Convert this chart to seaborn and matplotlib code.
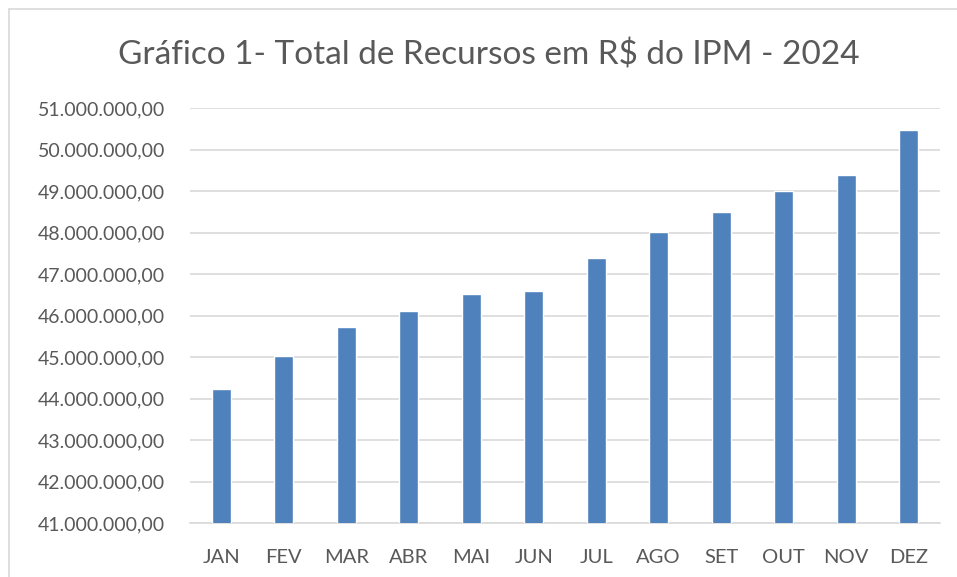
import pandas as pd
import matplotlib.pyplot as plt
import seaborn as sns
from matplotlib.lines import Line2D
from matplotlib.ticker import FuncFormatter, MultipleLocator

# Dados
meses = ['JAN', 'FEV', 'MAR', 'ABR', 'MAI', 'JUN', 'JUL', 'AGO', 'SET', 'OUT', 'NOV', 'DEZ']
recursos = [44220000, 45020000, 45720000, 46120000, 46530000, 46600000,
            47390000, 48010000, 48500000, 49000000, 49380000, 50480000]

df = pd.DataFrame({'mes': meses, 'recursos': recursos})

sns.set_style('white')
plt.rcParams['font.family'] = ['Lato', 'DejaVu Sans']

W, H = 957, 577
fig = plt.figure(figsize=(W / 100, H / 100), dpi=100)
ax = fig.add_axes([190 / W, 1 - 523 / H, 750 / W, (523 - 108) / H])

sns.barplot(x='mes', y='recursos', data=df, color='#4F81BD', width=0.31,
            saturation=1, ax=ax, zorder=3)

ax.set_ylim(41000000, 51000000)
ax.yaxis.set_major_locator(MultipleLocator(1000000))


def formato_br(v, pos):
    return f'{v:,.2f}'.replace(',', 'X').replace('.', ',').replace('X', '.')


ax.yaxis.set_major_formatter(FuncFormatter(formato_br))
ax.grid(axis='y', color='#D9D9D9', linewidth=1.2, zorder=0)
ax.set_axisbelow(True)

for s in ['top', 'right', 'left']:
    ax.spines[s].set_visible(False)
ax.spines['bottom'].set_color('#D9D9D9')
ax.spines['bottom'].set_linewidth(1.2)

ax.tick_params(axis='both', length=0, colors='#595959')
ax.tick_params(axis='x', pad=19, labelsize=14.5)
ax.tick_params(axis='y', pad=18, labelsize=14)
ax.set_xlabel('')
ax.set_ylabel('')

fig.text(489 / W, 1 - 55 / H, 'Gráfico 1- Total de Recursos em R$ do IPM - 2024',
         ha='center', va='center', fontsize=24, color='#595959')

# Borda do gráfico
fig.add_artist(Line2D([9 / W, 1], [1 - 9 / H, 1 - 9 / H], color='#D9D9D9', linewidth=1.2))
fig.add_artist(Line2D([9 / W, 9 / W], [0, 1 - 9 / H], color='#D9D9D9', linewidth=1.2))

plt.savefig('out.png', dpi=100)
